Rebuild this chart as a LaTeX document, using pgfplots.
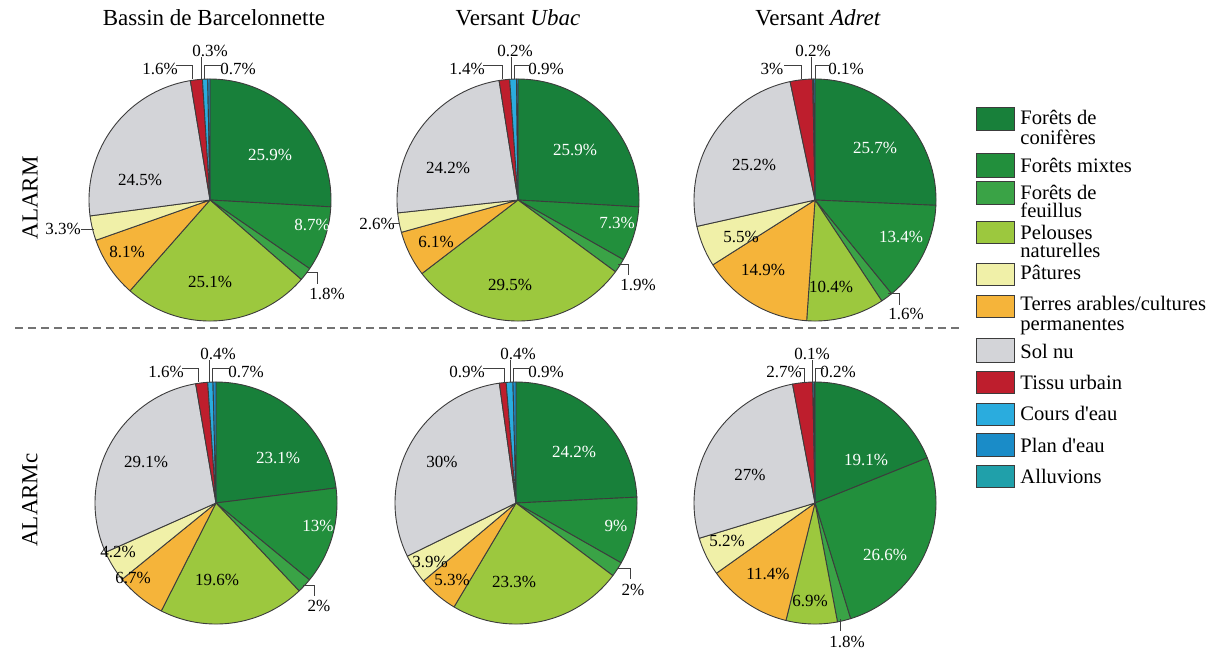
\documentclass[border=0pt]{standalone}
\usepackage{fontspec}
\setmainfont{Liberation Serif}[Ligatures=TeXOff]
\usepackage{pgfplots}
\pgfplotsset{compat=1.18}

\definecolor{conif}{RGB}{24,128,58}
\definecolor{mixte}{RGB}{34,143,60}
\definecolor{feuil}{RGB}{58,163,70}
\definecolor{pelouse}{RGB}{156,200,62}
\definecolor{pature}{RGB}{240,240,168}
\definecolor{terres}{RGB}{245,180,58}
\definecolor{solnu}{RGB}{211,212,216}
\definecolor{urbain}{RGB}{190,30,45}
\definecolor{cours}{RGB}{42,172,222}
\definecolor{plan}{RGB}{26,140,200}
\definecolor{alluv}{RGB}{32,160,170}
\definecolor{edge}{RGB}{60,60,60}

% every pie axis: units are reference pixels measured from the pie centre
\pgfplotsset{
  pie/.style={hide axis, scale only axis, width=150pt, height=150pt,
    xmin=-150, xmax=150, ymin=-150, ymax=150, clip=false, anchor=center},
}
\tikzset{
  lb/.style={font=\fontsize{8.5}{9}\selectfont, text=black, inner sep=0pt},
  lw/.style={lb, text=white},
  leader/.style={draw=black!75, line width=0.5pt},
  legtxt/.style={font=\fontsize{10.3}{11}\selectfont, anchor=base west, inner sep=0pt},
}

% slices clockwise from 12 o'clock, value/colour
\newcommand\piechart[1]{%
  \gdef\pietot{0}%
  \foreach \v/\c in {#1}{\pgfmathsetmacro\tmp{\pietot+\v}\global\let\pietot\tmp}%
  \gdef\piecum{0}%
  \foreach \v/\c in {#1}{%
    \pgfmathsetmacro\pa{90-\piecum/\pietot*360}%
    \pgfmathsetmacro\pb{90-(\piecum+\v)/\pietot*360}%
    \edef\tmp{\noexpand\addplot[fill=\c, draw=edge, line width=0.45pt, line join=round,
      domain=\pb:\pa, samples=90, variable=\noexpand\ang]
      ({121*cos(\noexpand\ang)}, {121*sin(\noexpand\ang)}) -- (axis cs:0,0) -- cycle;}%
    \tmp
    \pgfmathsetmacro\tmp{\piecum+\v}\global\let\piecum\tmp
  }%
}
\newcommand\lab[3]{\node[lb] at (axis cs:#1,#2) {#3\%};}
\newcommand\labw[3]{\node[lw] at (axis cs:#1,#2) {#3\%};}
\newcommand\sidelab[4]{\node[lb] at (axis cs:#2,131) {#1\%};
  \draw[leader] (axis cs:#3,135) -- (axis cs:#4,135) -- (axis cs:#4,121);}
\newcommand\toplab[3]{\node[lb] at (axis cs:#2,149) {#1\%};
  \draw[leader] (axis cs:#3,143) -- (axis cs:#3,121);}

\begin{document}
\begin{tikzpicture}[x=0.5pt, y=-0.5pt]
\useasboundingbox (0,0) rectangle (1224,650);

% titles
\node[font=\fontsize{11.5}{12}\selectfont] at (214,18) {Bassin de Barcelonnette};
\node[font=\fontsize{11.5}{12}\selectfont] at (518,18) {Versant \textit{Ubac}};
\node[font=\fontsize{11.5}{12}\selectfont] at (818,18) {Versant \textit{Adret}};
\node[font=\fontsize{11.5}{12}\selectfont, rotate=90] at (30,198) {ALARM};
\node[font=\fontsize{11.5}{12}\selectfont, rotate=90] at (30,500) {ALARMc};
\draw[black!55, line width=0.6pt, dash pattern=on 4pt off 2.5pt] (15,328) -- (962,328);

% ALARM - Bassin de Barcelonnette
\begin{axis}[pie, at={(105pt,-100pt)}]
\piechart{25.9/conif,8.7/mixte,1.8/feuil,25.1/pelouse,8.1/terres,3.3/pature,24.5/solnu,1.6/urbain,0.7/cours,0.3/plan}
\labw{60}{45}{25.9}\labw{102}{-25}{8.7}\lab{0}{-82}{25.1}\lab{-83}{-52}{8.1}\lab{-70}{20}{24.5}
\lab{-147}{-29}{3.3}\draw[leader] (axis cs:-129,-29) -- (axis cs:-116,-29);
\lab{117}{-94}{1.8}\draw[leader] (axis cs:96,-72) -- (axis cs:107,-72) -- (axis cs:107,-84);
\sidelab{1.6}{-50}{-34}{-18}\toplab{0.3}{0}{-9}\sidelab{0.7}{28}{12}{-6}
\end{axis}

% ALARM - Versant Ubac
\begin{axis}[pie, at={(259pt,-100pt)}]
\piechart{25.9/conif,7.3/mixte,1.9/feuil,29.5/pelouse,6.1/terres,2.6/pature,24.2/solnu,1.4/urbain,0.9/cours,0.2/plan}
\labw{57}{50}{25.9}\labw{99}{-23}{7.3}\lab{-8}{-85}{29.5}\lab{-82}{-42}{6.1}\lab{-70}{32}{24.2}
\lab{-141}{-24}{2.6}\draw[leader] (axis cs:-126,-23) -- (axis cs:-119,-23);
\lab{120}{-85}{1.9}\draw[leader] (axis cs:100,-64) -- (axis cs:110,-64) -- (axis cs:110,-75);
\sidelab{1.4}{-51}{-35}{-16}\toplab{0.2}{-3}{-7}\sidelab{0.9}{28}{12}{-4}
\end{axis}

% ALARM - Versant Adret
\begin{axis}[pie, at={(407.5pt,-100pt)}]
\piechart{25.7/conif,13.4/mixte,1.6/feuil,10.4/pelouse,14.9/terres,5.5/pature,25.2/solnu,3/urbain,0.1/cours,0.2/plan}
\labw{60}{52}{25.7}\labw{86}{-37}{13.4}\lab{16}{-87}{10.4}\lab{-52}{-70}{14.9}\lab{-74}{-37}{5.5}\lab{-61}{35}{25.2}
\lab{91}{-114}{1.6}\draw[leader] (axis cs:73,-93) -- (axis cs:84,-93) -- (axis cs:84,-105);
\sidelab{3}{-43}{-31}{-14}\toplab{0.2}{-2}{-4}\sidelab{0.1}{31}{14}{0}
\end{axis}

% ALARMc - Bassin de Barcelonnette
\begin{axis}[pie, at={(108pt,-251.5pt)}]
\piechart{23.1/conif,13/mixte,2/feuil,19.6/pelouse,6.7/terres,4.2/pature,29.1/solnu,1.6/urbain,0.7/cours,0.4/plan}
\labw{62}{45}{23.1}\labw{102}{-23}{13}\lab{1}{-77}{19.6}\lab{-83}{-75}{6.7}\lab{-98}{-49}{4.2}\lab{-70}{41}{29.1}
\lab{103}{-103}{2}\draw[leader] (axis cs:87,-82) -- (axis cs:98,-82) -- (axis cs:98,-93);
\sidelab{1.6}{-50}{-34}{-18}\toplab{0.4}{2}{-7}\sidelab{0.7}{30}{13}{-4}
\end{axis}

% ALARMc - Versant Ubac
\begin{axis}[pie, at={(258pt,-251.5pt)}]
\piechart{24.2/conif,9/mixte,2/feuil,23.3/pelouse,5.3/terres,3.9/pature,30/solnu,0.9/urbain,0.9/cours,0.4/plan}
\labw{58}{51}{24.2}\labw{100}{-23}{9}\lab{-2}{-79}{23.3}\lab{-64}{-77}{5.3}\lab{-86}{-59}{3.9}\lab{-74}{41}{30}
\lab{117}{-87}{2}\draw[leader] (axis cs:101,-65) -- (axis cs:114,-65) -- (axis cs:114,-76);
\sidelab{0.9}{-49}{-33}{-12}\toplab{0.4}{2}{-6}\sidelab{0.9}{30}{14}{-3}
\end{axis}

% ALARMc - Versant Adret
\begin{axis}[pie, at={(407.5pt,-251.5pt)}]
\piechart{19.1/conif,26.6/mixte,1.8/feuil,6.9/pelouse,11.4/terres,5.2/pature,27/solnu,2.7/urbain,0.2/cours,0.1/plan}
\labw{51}{43}{19.1}\labw{70}{-52}{26.6}\lab{-5}{-98}{6.9}\lab{-47}{-71}{11.4}\lab{-88}{-38}{5.2}\lab{-65}{28}{27}
\lab{32}{-139}{1.8}\draw[leader] (axis cs:25,-116) -- (axis cs:25,-128);
\sidelab{2.7}{-31}{-16}{-11}\toplab{0.1}{-3}{-3}\sidelab{0.2}{23}{9}{0}
\end{axis}

% legend
\foreach \c/\ya/\yb in {conif/107/130, mixte/153/177, feuil/181/204, pelouse/221/243,
    pature/263/285, terres/295/317, solnu/338/362, urbain/371/393, cours/403/425,
    plan/433/456, alluv/465/487}
  \draw[fill=\c, draw=edge, line width=0.5pt] (976,\ya) rectangle (1014,\yb);
\foreach \y/\t in {117/{Forêts de}, 137/{conifères}, 165/{Forêts mixtes}, 192/{Forêts de},
    210/{feuillus}, 232/{Pelouses}, 250/{naturelles}, 272/{Pâtures},
    303/{Terres arables/cultures}, 323/{permanentes}, 351/{Sol nu}, 382/{Tissu urbain},
    413/{Cours d'eau}, 445/{Plan d'eau}, 476/{Alluvions}}
  \node[legtxt] at (1020,\y+7) {\t};
\end{tikzpicture}
\end{document}
